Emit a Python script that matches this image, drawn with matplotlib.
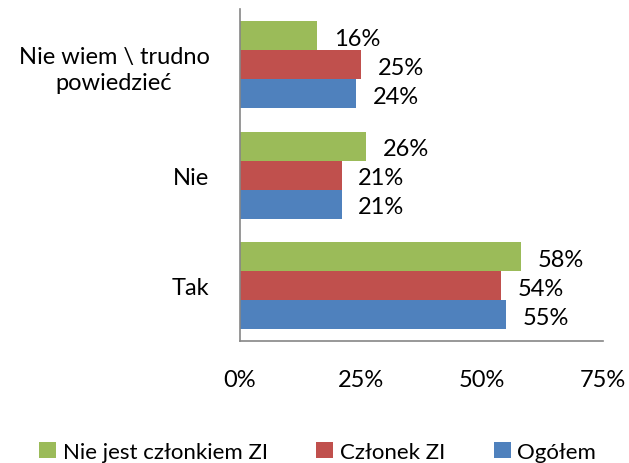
import numpy as np
import matplotlib
matplotlib.use("Agg")
import matplotlib.pyplot as plt

plt.rcParams['font.family'] = ['Lato', 'DejaVu Sans']

# Dane
kategorie = ['Tak', 'Nie', 'Nie wiem \\ trudno\npowiedzieć']
ogolem = [55, 21, 24]
czlonek = [54, 21, 25]
nie_czlonek = [58, 26, 16]

serie = [
    ('Ogółem', ogolem, '#4f81bd'),
    ('Członek ZI', czlonek, '#c0504d'),
    ('Nie jest członkiem ZI', nie_czlonek, '#9bbb59'),
]

fig = plt.figure(figsize=(6.29, 4.64), dpi=100)
ax = fig.add_axes([0.3816, 0.263, 0.5771, 0.715])

y = np.arange(len(kategorie))
h = 0.262
bars = {}
for i, (nazwa, wart, kolor) in enumerate(serie):
    pos = y + (i - 1) * h
    bars[nazwa] = ax.barh(pos, wart, height=h, color=kolor, label=nazwa)
    for p, v in zip(pos, wart):
        ax.annotate(f'{v}%', (v, p), xytext=(12, -2), textcoords='offset points',
                    va='center', ha='left', fontsize=17)

ax.set_xlim(0, 75)
ax.set_ylim(-0.5, 2.5)
ax.set_xticks([0, 25, 50, 75])
ax.set_xticklabels(['0%', '25%', '50%', '75%'], fontsize=17)
ax.set_yticks(y)
ax.set_yticklabels(kategorie, fontsize=17, multialignment='center', linespacing=1.3)
ax.tick_params(axis='y', length=0, pad=22)
ax.tick_params(axis='x', length=0, pad=20)

for s in ['top', 'right']:
    ax.spines[s].set_visible(False)
for s in ['left', 'bottom']:
    ax.spines[s].set_color('#868686')
    ax.spines[s].set_linewidth(1.2)

handles = [bars['Nie jest członkiem ZI'], bars['Członek ZI'], bars['Ogółem']]
fig.legend(handles, [hd.get_label() for hd in handles], loc='lower center',
           ncol=3, frameon=False, fontsize=16, handlelength=0.75, handleheight=0.75,
           handletextpad=0.3, columnspacing=2.2, bbox_to_anchor=(0.505, -0.04))

fig.savefig('out.png', dpi=100)
